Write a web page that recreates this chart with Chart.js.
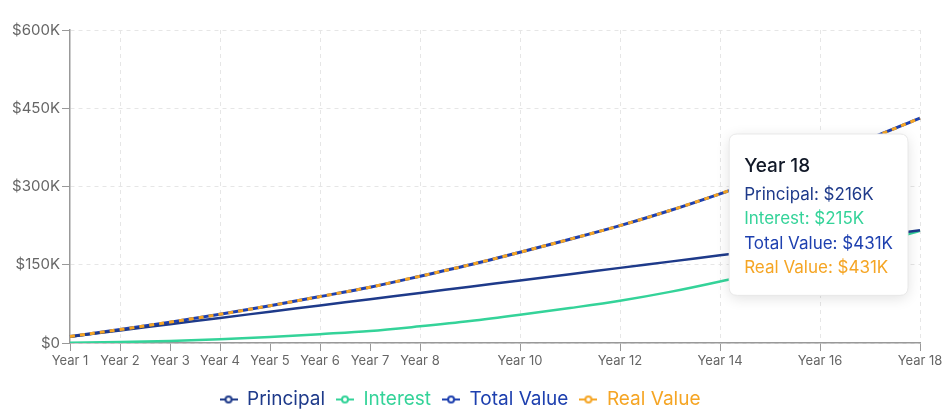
<!DOCTYPE html>
<html>
<head>
<meta charset="utf-8">
<script src="https://cdn.jsdelivr.net/npm/chart.js@4.4.1/dist/chart.umd.min.js"></script>
<style>
  html, body { margin: 0; padding: 0; background: #fff; }
  #wrap { width: 949px; height: 419px; }
</style>
</head>
<body>
<div id="wrap"><canvas id="chart"></canvas></div>
<script>
// values in thousands of dollars
const years = ['Year 1','Year 2','Year 3','Year 4','Year 5','Year 6','Year 7','Year 8','Year 9',
  'Year 10','Year 11','Year 12','Year 13','Year 14','Year 15','Year 16','Year 17','Year 18'];
const shownTicks = ['Year 1','Year 2','Year 3','Year 4','Year 5','Year 6','Year 7','Year 8',
  'Year 10','Year 12','Year 14','Year 16','Year 18'];
const principal = [12, 24, 36, 48, 60, 72, 84, 96, 108, 120, 132, 144, 156, 168, 180, 192, 204, 216];
const interest = [0.6, 1.8, 4, 7, 11.5, 17, 23, 32, 42, 54, 67, 81, 98, 118, 140, 163, 188, 215];
const totalValue = [12.6, 25.8, 40, 55, 71.5, 89, 107, 128, 150, 174, 199, 225, 254, 286, 320, 355, 392, 431];
const realValue = [12.6, 25.8, 40, 55, 71.5, 89, 107, 128, 150, 174, 199, 225, 254, 286, 320, 355, 392, 431];
const yTicks = [0, 150, 300, 450, 600];

const colors = {
  principal: '#1e3a8a',
  interest: '#34d399',
  total: '#1e40af',
  real: '#f5a524'
};

Chart.defaults.font.family = 'Inter, "Noto Sans", sans-serif';

function legendIcon(color) {
  const c = document.createElement('canvas');
  c.width = 18; c.height = 10;
  const g = c.getContext('2d');
  g.strokeStyle = color;
  g.lineWidth = 2;
  g.beginPath(); g.moveTo(0, 5); g.lineTo(18, 5); g.stroke();
  g.fillStyle = '#fff';
  g.beginPath(); g.arc(9, 5, 3, 0, Math.PI * 2); g.fill(); g.stroke();
  return c;
}

Chart.Tooltip.positioners.besideLast = function (items) {
  if (!items.length) return false;
  const ca = this.chart.chartArea;
  return {
    x: items[0].element.x,
    y: ca.top + (ca.bottom - ca.top) * 0.59,
    xAlign: 'right',
    yAlign: 'center'
  };
};

const tooltipShadow = {
  id: 'tooltipShadow',
  beforeTooltipDraw(chart, args) {
    const t = args.tooltip;
    if (!t.opacity) return;
    const ctx = chart.ctx;
    ctx.save();
    ctx.shadowColor = 'rgba(0,0,0,0.12)';
    ctx.shadowBlur = 14;
    ctx.shadowOffsetY = 3;
    ctx.fillStyle = '#fff';
    ctx.beginPath();
    ctx.roundRect(t.x, t.y, t.width, t.height, 8);
    ctx.fill();
    ctx.restore();
  }
};

const lineBase = {
  borderWidth: 2.5,
  pointRadius: 0,
  pointHoverRadius: 0,
  cubicInterpolationMode: 'monotone',
  fill: false
};

const chart = new Chart(document.getElementById('chart'), {
  type: 'line',
  data: {
    labels: years,
    datasets: [
      Object.assign({}, lineBase, { label: 'Principal', data: principal, borderColor: colors.principal, order: 1 }),
      Object.assign({}, lineBase, { label: 'Interest', data: interest, borderColor: colors.interest, order: 1 }),
      Object.assign({}, lineBase, { label: 'Total Value', data: totalValue, borderColor: colors.total, borderWidth: 3, order: 1 }),
      Object.assign({}, lineBase, { label: 'Real Value', data: realValue, borderColor: colors.real, borderWidth: 3, borderDash: [5, 5], order: 0 })
    ]
  },
  options: {
    responsive: true,
    maintainAspectRatio: false,
    animation: false,
    layout: { padding: { top: 30, right: 29, left: 0, bottom: 0 } },
    interaction: { mode: 'index', intersect: false },
    scales: {
      x: {
        grid: {
          color: c => (c.index % 2 === 1 ? '#e6e6e6' : 'rgba(0,0,0,0)'),
          tickColor: c => (shownTicks.includes(years[c.index]) ? '#999' : 'rgba(0,0,0,0)'),
          tickLength: 8,
          lineWidth: 1
        },
        border: { color: '#999', width: 1.5, dash: [4, 4] },
        ticks: {
          autoSkip: false,
          maxRotation: 0,
          padding: 2,
          color: '#666',
          font: { size: 13 },
          callback: function (v, i) { return shownTicks.includes(years[i]) ? years[i] : ''; }
        },
        afterFit: s => { s.height = 36; }
      },
      y: {
        min: 0,
        max: 600,
        afterBuildTicks: s => { s.ticks = yTicks.map(v => ({ value: v })); },
        grid: { color: '#e6e6e6', tickColor: '#999', tickLength: 8 },
        border: { color: '#999', width: 1.5, dash: [4, 4] },
        ticks: {
          color: '#666',
          padding: 2,
          font: { size: 15 },
          callback: v => (v === 0 ? '$0' : '$' + v + 'K')
        },
        afterFit: s => { s.width = 70; }
      }
    },
    plugins: {
      legend: {
        position: 'bottom',
        labels: {
          usePointStyle: true,
          pointStyleWidth: 18,
          padding: 11,
          font: { size: 19 },
          generateLabels: ch => ch.data.datasets.map((d, i) => ({
            text: d.label,
            fontColor: d.borderColor,
            pointStyle: legendIcon(d.borderColor),
            strokeStyle: d.borderColor,
            fillStyle: '#fff',
            lineWidth: 0,
            hidden: false,
            datasetIndex: i
          }))
        }
      },
      tooltip: {
        enabled: true,
        position: 'besideLast',
        xAlign: 'right',
        yAlign: 'center',
        caretSize: 0,
        caretPadding: 12,
        backgroundColor: '#fff',
        borderColor: '#e8e8e8',
        borderWidth: 1,
        cornerRadius: 8,
        displayColors: false,
        padding: { top: 21, bottom: 17, left: 15, right: 15 },
        titleColor: '#111827',
        titleFont: { size: 19, weight: '500' },
        titleMarginBottom: 7,
        bodyFont: { size: 17 },
        bodySpacing: 4,
        itemSort: (a, b) => a.datasetIndex - b.datasetIndex,
        callbacks: {
          label: c => c.dataset.label + ': $' + Math.round(c.parsed.y) + 'K',
          labelTextColor: c => c.dataset.borderColor
        }
      }
    }
  },
  plugins: [tooltipShadow]
});

const last = years.length - 1;
const active = chart.data.datasets.map((d, i) => ({ datasetIndex: i, index: last }));
const pt = chart.getDatasetMeta(0).data[last];
chart.tooltip.setActiveElements(active, { x: pt.x, y: pt.y });
chart.update();
</script>
</body>
</html>
